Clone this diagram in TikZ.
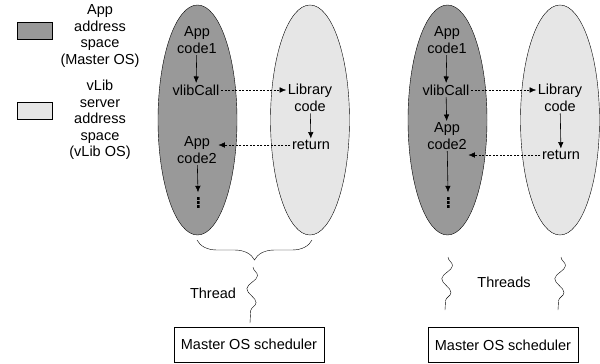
\documentclass[tikz,border=0pt]{standalone}
\usepackage{fontspec}
\setmainfont{Liberation Sans}
\usetikzlibrary{shapes.geometric,arrows.meta,decorations.pathmorphing,decorations.pathreplacing}
\definecolor{appgray}{RGB}{153,153,153}
\definecolor{libgray}{RGB}{230,230,230}
\begin{document}
\begin{tikzpicture}[x=1pt, y=-1pt,
  every node/.style={font=\fontsize{14.5}{16.5}\selectfont, inner sep=1.5pt, align=center},
  >={Latex[length=6.5pt,width=5.5pt]}
]
\tikzset{
  appspace/.style={draw, ellipse, fill=appgray, minimum width=79pt, minimum height=230pt},
  libspace/.style={draw, ellipse, fill=libgray, minimum width=79pt, minimum height=230pt},
  legbox/.style={draw, minimum width=35pt, minimum height=17pt, inner sep=0pt},
  sched/.style={draw, minimum width=150pt, minimum height=35pt},
  dotcol/.style={minimum width=3pt, minimum height=11pt, inner sep=0pt,
    path picture={
      \fill (path picture bounding box.north west) rectangle ++(3pt,-3pt);
      \fill (path picture bounding box.west) ++(0,-1.5pt) rectangle ++(3pt,3pt);
      \fill (path picture bounding box.south west) rectangle ++(3pt,3pt);
    }},
  call/.style={->, dash pattern=on 2pt off 1.5pt},
  flow/.style={->, line width=0.6pt},
  wave/.style={decorate, decoration={snake, segment length=27pt, amplitude=5pt}}
}
\useasboundingbox (0,0) rectangle (600,364);
% legend
\node[legbox, fill=appgray] (appbox) at (34.5,30.5) {};
\node (appleg) at (100,36) {App\\address\\space\\(Master OS)};
\node[legbox, fill=libgray] (libbox) at (34.5,111) {};
\node (libleg) at (100,120) {vLib\\server\\address\\space\\(vLib OS)};
% one thread
\node[appspace] (appA) at (197.5,120) {};
\node[libspace] (libA) at (310,120) {};
\node (codeA1) at (197,40) {App\\code1};
\node (callA) at (196,90) {vlibCall};
\node (libcodeA) at (310,98) {Library\\code};
\node (retA) at (311,145) {return};
\node (codeA2) at (197,150) {App\\code2};
\node[dotcol] (dotsA) at (198,202.5) {};
\draw[flow] (codeA1) -- (callA);
\draw[call] (callA.east) -- (callA.east -| libcodeA.west);
\draw[flow] (libcodeA) -- (retA);
\draw[call] (retA.west) -- (retA.west -| codeA2.east);
\draw[flow] (codeA2) -- ([yshift=4.5pt]dotsA.north);
\draw[decorate, decoration={brace, mirror, amplitude=20pt}] (197,240) -- (312,240);
\coordinate (topA) at (253,267);
\coordinate (botA) at (250,323);
\draw[wave] (topA) -- (botA);
\node (threadA) at (213,293) {Thread};
\node[sched] (schedA) at (249,344.5) {Master OS scheduler};
% many threads
\node[appspace] (appB) at (447.5,120) {};
\node[libspace] (libB) at (560,120) {};
\node (codeB1) at (447,40) {App\\code1};
\node (callB) at (446,90) {vlibCall};
\node (libcodeB) at (560,98) {Library\\code};
\node (retB) at (561,155) {return};
\node (codeB2) at (447,136) {App\\code2};
\node[dotcol] (dotsB) at (448,202.5) {};
\draw[flow] (codeB1) -- (callB);
\draw[flow] (callB) -- (codeB2);
\draw[call] (callB.east) -- (callB.east -| libcodeB.west);
\draw[flow] (libcodeB) -- (retB);
\draw[call] (retB.west) -- (retB.west -| codeB2.east);
\draw[flow] (codeB2) -- ([yshift=4.5pt]dotsB.north);
\coordinate (topB1) at (448,257);
\coordinate (botB1) at (445,310);
\coordinate (topB2) at (561,257);
\coordinate (botB2) at (558,310);
\draw[wave] (topB1) -- (botB1);
\draw[wave] (topB2) -- (botB2);
\node (threadB) at (504,282) {Threads};
\node[sched] (schedB) at (503,345) {Master OS scheduler};
\end{tikzpicture}
\end{document}
